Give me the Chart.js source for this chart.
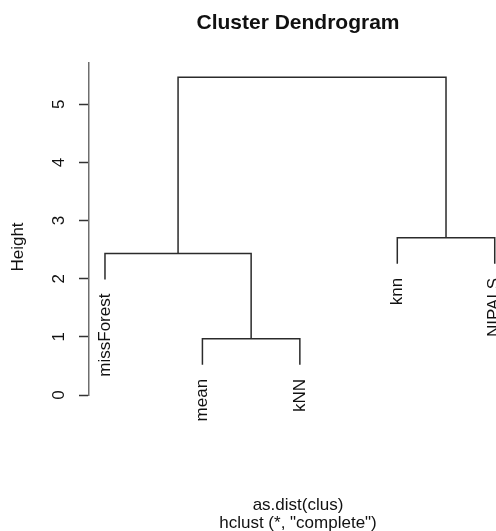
<!DOCTYPE html>
<html>
<head>
<meta charset="utf-8">
<title>Cluster Dendrogram</title>
<script src="https://cdn.jsdelivr.net/npm/chart.js@4.4.1/dist/chart.umd.min.js"></script>
<style>
  html, body { margin: 0; padding: 0; background: #ffffff; }
  #wrap { width: 496px; height: 531px; position: relative; }
</style>
</head>
<body>
<div id="wrap"><canvas id="dendro"></canvas></div>
<script>
// Leaves in plotting order (left to right)
const leafLabels = ['missForest', 'mean', 'kNN', 'knn', 'NIPALS'];
// hclust-style merge table: negative = leaf (1-based in original order), positive = earlier merge
const mergeA = [-2, -1, -4, 2];
const mergeB = [-3, 1, -5, 3];
const mergeHeights = [0.968, 2.435, 2.706, 5.464];
const yTicks = [0, 1, 2, 3, 4, 5];
const hangFraction = 0.1;

const FONT = "'Liberation Sans', Arial, Helvetica, sans-serif";
const LINE = '#2b2b2b';

// Horizontal positions: leaves at 1..n, merges at the midpoint of their children
const hang = hangFraction * (Math.max(...mergeHeights) - Math.min(...mergeHeights));
const mergeX = [];
function nodeX(id) { return id < 0 ? -id : mergeX[id - 1]; }
function nodeH(id, parentH) { return id < 0 ? parentH - hang : mergeHeights[id - 1]; }
mergeHeights.forEach((h, i) => {
  mergeX.push((nodeX(mergeA[i]) + nodeX(mergeB[i])) / 2);
});

// One U-shaped polyline per merge
const datasets = mergeHeights.map((h, i) => {
  const a = mergeA[i], b = mergeB[i];
  return {
    data: [
      { x: nodeX(a), y: nodeH(a, h) },
      { x: nodeX(a), y: h },
      { x: nodeX(b), y: h },
      { x: nodeX(b), y: nodeH(b, h) }
    ],
    showLine: true,
    borderColor: LINE,
    borderWidth: 1.5,
    pointRadius: 0,
    tension: 0,
    fill: false
  };
});

// Where each leaf line ends (for label placement)
const leafBottom = {};
mergeHeights.forEach((h, i) => {
  [mergeA[i], mergeB[i]].forEach(id => { if (id < 0) leafBottom[-id] = h - hang; });
});

const annotate = {
  id: 'annotate',
  afterDraw(chart) {
    const ctx = chart.ctx;
    const xs = chart.scales.x, ys = chart.scales.y;
    ctx.save();
    ctx.fillStyle = '#111111';

    // Title
    ctx.font = 'bold 21px ' + FONT;
    ctx.textAlign = 'center';
    ctx.textBaseline = 'middle';
    ctx.fillText('Cluster Dendrogram', 298, 23);

    // Rotated y tick labels
    ctx.font = '17px ' + FONT;
    yTicks.forEach(v => {
      ctx.save();
      ctx.translate(59, ys.getPixelForValue(v));
      ctx.rotate(-Math.PI / 2);
      ctx.textAlign = 'center';
      ctx.textBaseline = 'middle';
      ctx.fillText(String(v), 0, 0);
      ctx.restore();
    });

    // Axis title
    ctx.save();
    ctx.translate(18, 247);
    ctx.rotate(-Math.PI / 2);
    ctx.textAlign = 'center';
    ctx.textBaseline = 'middle';
    ctx.fillText('Height', 0, 0);
    ctx.restore();

    // Leaf labels, hanging below each leaf
    leafLabels.forEach((lab, i) => {
      const leafIdx = i + 1;
      ctx.save();
      ctx.translate(xs.getPixelForValue(leafIdx), ys.getPixelForValue(leafBottom[leafIdx]) + 14);
      ctx.rotate(-Math.PI / 2);
      ctx.textAlign = 'right';
      ctx.textBaseline = 'middle';
      ctx.fillText(lab, 0, 0);
      ctx.restore();
    });

    // Sub-title lines
    ctx.textAlign = 'center';
    ctx.textBaseline = 'middle';
    ctx.fillText('as.dist(clus)', 298, 505);
    ctx.fillText('hclust (*, "complete")', 298, 523);
    ctx.restore();
  }
};

new Chart(document.getElementById('dendro'), {
  type: 'scatter',
  data: { datasets },
  options: {
    responsive: true,
    maintainAspectRatio: false,
    animation: false,
    layout: { padding: { left: 79, right: 0, top: 63, bottom: 136 } },
    plugins: { legend: { display: false }, tooltip: { enabled: false }, title: { display: false } },
    scales: {
      x: {
        type: 'linear',
        display: false,
        min: 0.836,
        max: 5.013
      },
      y: {
        type: 'linear',
        min: 0,
        max: 5.71,
        afterBuildTicks(scale) { scale.ticks = yTicks.map(v => ({ value: v })); },
        ticks: { display: false },
        grid: {
          drawOnChartArea: false,
          drawTicks: true,
          tickLength: 10,
          tickWidth: 1.5,
          tickColor: '#333333'
        },
        border: { display: true, color: '#6e6e6e', width: 1.5 }
      }
    }
  },
  plugins: [annotate]
});
</script>
</body>
</html>
